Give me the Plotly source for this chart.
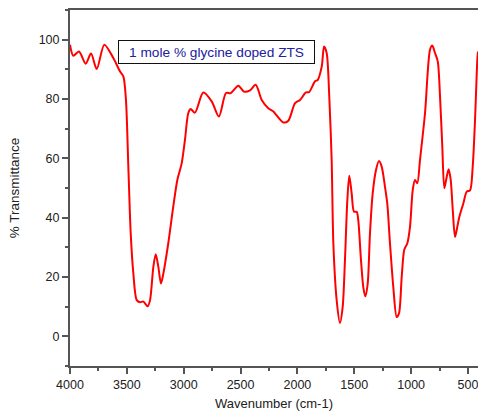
import plotly.graph_objects as go

wavenumber = [4000, 3971, 3921, 3862, 3815, 3765, 3698, 3619, 3560, 3531, 3508,
              3487, 3466, 3443, 3413, 3384, 3355, 3317, 3296, 3267, 3246, 3223,
              3200, 3179, 3136, 3092, 3056, 3018, 2989, 2960, 2939, 2901, 2828,
              2754, 2690, 2628, 2587, 2520, 2470, 2417, 2367, 2314, 2256, 2212,
              2124, 2080, 2021, 1977, 1925, 1898, 1845, 1822, 1786, 1766, 1743,
              1720, 1699, 1684, 1655, 1626, 1602, 1582, 1561, 1544, 1523, 1502,
              1479, 1465, 1441, 1421, 1403, 1382, 1362, 1338, 1309, 1283, 1259,
              1230, 1210, 1186, 1157, 1127, 1107, 1083, 1060, 1034, 1010, 986,
              966, 946, 922, 878, 834, 814, 790, 766, 746, 726, 708, 687, 670,
              652, 634, 614, 594, 576, 541, 511, 482, 459, 438, 418, 412]
transmittance = [98.3, 94.6, 96.0, 91.9, 95.3, 90.1, 98.3, 93.8, 89.3, 87.6, 79.7,
                 57.2, 34.7, 21.2, 12.2, 11.5, 11.7, 10.1, 12.2, 23.4, 27.7, 23.4,
                 17.8, 21.2, 31.3, 43.7, 52.7, 58.3, 66.2, 75.2, 76.6, 75.4, 82.2,
                 79.2, 74.1, 82.0, 82.0, 84.5, 82.5, 82.9, 84.8, 79.7, 76.9, 75.8,
                 72.1, 72.7, 78.6, 79.7, 82.2, 82.3, 86.0, 86.4, 91.0, 97.7, 95.5,
                 80.9, 59.5, 31.3, 12.2, 4.5, 9.9, 25.7, 45.9, 54.1, 48.2, 42.0,
                 42.0, 39.2, 25.7, 16.7, 13.5, 17.8, 34.7, 48.2, 56.1, 59.1, 57.2,
                 50.4, 44.8, 31.3, 16.7, 6.5, 7.7, 20.0, 29.3, 31.3, 36.9, 49.3,
                 52.7, 51.6, 59.5, 75.2, 96.6, 98.0, 95.5, 92.7, 80.9, 64.0, 49.9,
                 53.8, 56.3, 52.7, 42.6, 33.5, 36.9, 40.3, 44.8, 48.8, 49.2, 57.0,
                 73.0, 93.2, 96.0]

x_ticks = [4000, 3500, 3000, 2500, 2000, 1500, 1000, 500]
y_ticks = [0, 20, 40, 60, 80, 100]
label = "1 mole % glycine doped ZTS"

axis_col = "#555555"
font = dict(family="Liberation Sans, Arial, sans-serif", size=12, color="#222222")

fig = go.Figure()
fig.add_trace(go.Scatter(x=wavenumber, y=transmittance, mode="lines",
                         line=dict(color="#ff0000", width=2, shape="spline", smoothing=0.8),
                         showlegend=False, cliponaxis=True))

fig.update_layout(
    width=478, height=414,
    margin=dict(l=70, r=0, t=10, b=48),
    paper_bgcolor="white", plot_bgcolor="white",
    font=font,
    annotations=[dict(text=label, xref="paper", yref="paper", x=0.359, y=0.917,
                      showarrow=False, width=189, height=16,
                      font=dict(family="Liberation Sans, Arial, sans-serif",
                                size=13.7, color="#2020a0"),
                      bordercolor="#111111", borderwidth=1, borderpad=3,
                      bgcolor="white")],
)
fig.update_xaxes(range=[4000, 412], tickvals=x_ticks, ticks="outside", ticklen=6,
                 tickwidth=1.5, tickcolor=axis_col, showline=True, linecolor=axis_col,
                 linewidth=2, mirror=True, showgrid=False, zeroline=False,
                 ticklabeloverflow="allow",
                 minor=dict(ticks="outside", dtick=250, ticklen=3, tickcolor=axis_col, tickwidth=1.5),
                 title=dict(text="Wavenumber (cm-1)", standoff=8, font=dict(size=13)),
                 tickfont=dict(size=12.5))
fig.update_yaxes(range=[-10, 110], tickvals=y_ticks, ticks="outside", ticklen=6,
                 tickwidth=1.5, tickcolor=axis_col, showline=True, linecolor=axis_col,
                 linewidth=2, showgrid=False, zeroline=False,
                 minor=dict(ticks="outside", dtick=10, ticklen=3, tickcolor=axis_col, tickwidth=1.5),
                 title=dict(text="% Transmittance", standoff=16, font=dict(size=13.5)),
                 tickfont=dict(size=12.5))

fig.write_html("out.html")
